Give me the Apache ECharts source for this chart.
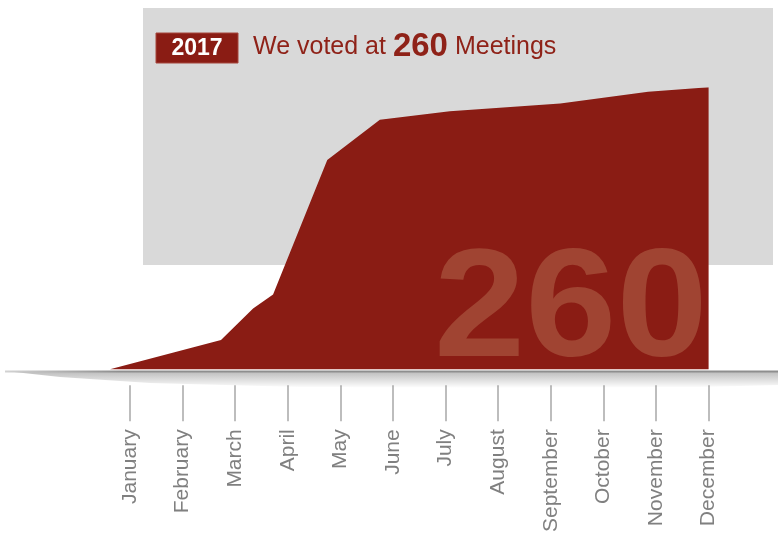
<!DOCTYPE html>
<html>
<head>
<meta charset="utf-8">
<script src="https://cdn.jsdelivr.net/npm/echarts@6/dist/echarts.min.js"></script>
<style>
  html, body { margin: 0; padding: 0; background: #ffffff; }
  #chart { width: 778px; height: 535px; }
</style>
</head>
<body>
<div id="chart"></div>
<script>
// Month names shown under the axis, placed at month positions 1..12
const months = ['January', 'February', 'March', 'April', 'May', 'June',
                'July', 'August', 'September', 'October', 'November', 'December'];
const monthPos = [1, 2, 3, 4, 5, 6, 7, 8, 9, 10, 11, 12];

// Cumulative meetings voted, sampled along the month scale
const pointMonth = [0.62, 2.73, 3.34, 3.72, 4.75, 5.75, 7.08, 9.18, 10.85, 12];
const meetings   = [0, 27, 56, 69, 193, 230, 238, 245, 256, 260];

const year = '2017';
const total = 260;

const RED = '#8a1c14';
const FONT = '"Liberation Sans", Arial, Helvetica, sans-serif';

const chart = echarts.init(document.getElementById('chart'), null, { renderer: 'canvas' });

chart.setOption({
  animation: false,
  backgroundColor: '#ffffff',
  // the axis sits a little below the zero line so the ticks hang free of the baseline
  grid: { left: 77.4, right: 69.4, top: 87.3, bottom: 148.3, containLabel: false },
  xAxis: {
    type: 'value',
    min: 0,
    max: 12,
    axisLine: { show: false, onZero: false },
    splitLine: { show: false },
    axisTick: {
      show: true,
      customValues: monthPos,
      length: 36,
      lineStyle: { color: '#a8a8a8', width: 1.5 }
    },
    axisLabel: {
      customValues: monthPos,
      formatter: v => months[Math.round(v) - 1],
      rotate: 90,
      margin: 44,
      color: '#808080',
      fontSize: 21,
      fontFamily: FONT,
      hideOverlap: false
    }
  },
  yAxis: {
    type: 'value',
    min: -14.7,
    max: total,
    show: false,
    splitLine: { show: false }
  },
  series: [{
    type: 'line',
    data: pointMonth.map((m, i) => [m, meetings[i]]),
    symbol: 'none',
    lineStyle: { width: 0, color: RED },
    areaStyle: { color: RED, opacity: 1, origin: 0 },
    z: 2
  }],
  graphic: [
    // grey header panel behind the area
    {
      type: 'rect', z: -10, silent: true,
      shape: { x: 143, y: 8, width: 630, height: 257 },
      style: { fill: '#d9d9d9' }
    },
    // year badge
    {
      type: 'rect', z: 10, silent: true,
      shape: { x: 156, y: 33, width: 82, height: 30 },
      style: { fill: RED, stroke: '#a5473d', lineWidth: 1 }
    },
    {
      type: 'text', z: 11, silent: true,
      style: {
        x: 197, y: 48.5, text: year,
        fill: '#ffffff', font: 'bold 23px ' + FONT,
        textAlign: 'center', textVerticalAlign: 'middle'
      }
    },
    // headline
    {
      type: 'text', z: 11, silent: true,
      style: {
        x: 253, y: 47,
        text: '{a|We voted at }{b|' + total + '}{a| Meetings}',
        textVerticalAlign: 'middle',
        rich: {
          a: { fill: '#8f2218', color: '#8f2218', fontSize: 25, fontFamily: FONT },
          b: { fill: '#8f2218', color: '#8f2218', fontSize: 33, fontWeight: 'bold', fontFamily: FONT }
        }
      }
    },
    // large total drawn over the area, slightly squat
    {
      type: 'text', z: 5, silent: true,
      originX: 434, originY: 362, scaleY: 0.94,
      style: {
        x: 434, y: 310, text: String(total),
        fill: '#a04432', font: 'bold 164px ' + FONT,
        textAlign: 'left', textVerticalAlign: 'middle'
      }
    },
    // soft shadow under the baseline
    {
      type: 'polygon', z: 6, silent: true,
      shape: {
        points: [[5, 371], [778, 371], [778, 385], [700, 387], [500, 388],
                 [300, 387], [150, 383], [60, 377]]
      },
      style: {
        fill: new echarts.graphic.LinearGradient(0, 0, 0, 1, [
          { offset: 0, color: 'rgba(0,0,0,0.27)' },
          { offset: 1, color: 'rgba(0,0,0,0)' }
        ])
      }
    },
    // baseline
    {
      type: 'line', z: 7, silent: true,
      shape: { x1: 5, y1: 371.5, x2: 778, y2: 371.5 },
      style: {
        lineWidth: 2,
        stroke: new echarts.graphic.LinearGradient(0, 0, 1, 0, [
          { offset: 0, color: '#d4d4d4' },
          { offset: 0.15, color: '#8e8e8e' },
          { offset: 1, color: '#8e8e8e' }
        ])
      }
    }
  ]
});
</script>
</body>
</html>
